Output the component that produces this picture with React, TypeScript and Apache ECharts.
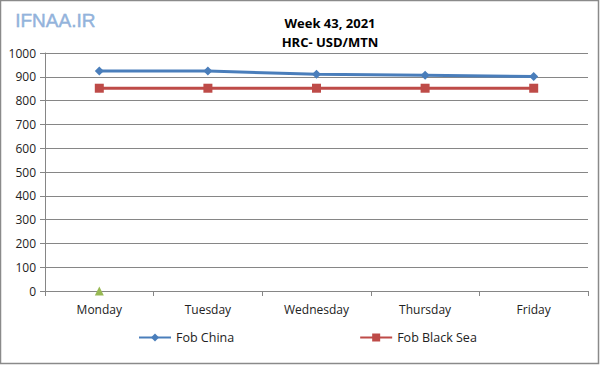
import React, { useEffect, useRef } from "react";
import * as echarts from "echarts";

const categories = ["Monday", "Tuesday", "Wednesday", "Thursday", "Friday"];
const fobChina = [924, 924, 911, 906, 901];
const fobBlackSea = [852, 852, 852, 852, 852];
const stray = [0, null, null, null, null];
const titleLines = ["Week 43, 2021", "HRC- USD/MTN"];

export default function App() {
  const ref = useRef<HTMLDivElement>(null);
  useEffect(() => {
    const chart = echarts.init(ref.current!, null, { renderer: "svg" });
    const font = "'Open Sans', 'Liberation Sans', sans-serif";
    chart.setOption({
      animation: false,
      backgroundColor: "#ffffff",
      textStyle: { fontFamily: font },
      title: {
        text: titleLines.join("\n"),
        left: 325,
        top: 8,
        textAlign: "center",
        textStyle: { fontSize: 13, fontWeight: "bold", color: "#000", lineHeight: 19, fontFamily: font },
      },
      graphic: [
        {
          type: "rect",
          shape: { x: 0.5, y: 0.5, width: 598, height: 363 },
          style: { fill: "none", stroke: "#8a8a8a", lineWidth: 1.5 },
          silent: true,
        },
        {
          type: "text",
          left: 15,
          top: 11,
          style: {
            text: "IFNAA.IR",
            fontSize: 19,
            fontFamily: "'Liberation Sans', sans-serif",
            fill: "#93b3dc",
            stroke: "#7b9fcf",
            lineWidth: 0.4,
          },
        },
      ],
      legend: {
        bottom: 16,
        left: 133,
        itemGap: 125,
        itemWidth: 32,
        itemHeight: 10,
        data: ["Fob China", "Fob Black Sea"],
        textStyle: { fontSize: 12.5, color: "#222", fontFamily: font },
      },
      grid: { left: 45, right: 12, top: 53, bottom: 74, containLabel: false },
      xAxis: {
        type: "category",
        data: categories,
        boundaryGap: true,
        axisLine: { lineStyle: { color: "#868686" } },
        axisTick: { show: true, length: 5, inside: false, lineStyle: { color: "#868686" } },
        axisLabel: { fontSize: 12, color: "#222", margin: 12, fontFamily: font },
      },
      yAxis: {
        type: "value",
        min: 0,
        max: 1000,
        interval: 100,
        axisLine: { show: true, lineStyle: { color: "#868686" } },
        axisTick: { show: true, length: 5, lineStyle: { color: "#868686" } },
        axisLabel: { fontSize: 12, color: "#222", margin: 9, fontFamily: font, formatter: (v: number) => String(v) },
        splitLine: { lineStyle: { color: "#868686" } },
      },
      series: [
        {
          name: "Fob China",
          type: "line",
          data: fobChina,
          symbol: "diamond",
          symbolSize: 9,
          color: "#4a7ebb",
          lineStyle: { width: 3, color: "#4a7ebb" },
          itemStyle: { color: "#4a7ebb" },
        },
        {
          name: "Fob Black Sea",
          type: "line",
          data: fobBlackSea,
          symbol: "rect",
          symbolSize: 9,
          color: "#be4b48",
          lineStyle: { width: 3, color: "#be4b48" },
          itemStyle: { color: "#be4b48" },
        },
        {
          name: "stray",
          type: "line",
          data: stray,
          symbol: "triangle",
          symbolSize: 9,
          lineStyle: { width: 0 },
          itemStyle: { color: "#98b954" },
          z: 5,
        },
      ],
    });
    return () => chart.dispose();
  }, []);
  return (
    <div
      ref={ref}
      style={{ position: "fixed", left: 0, top: 0, width: 600, height: 365 }}
    />
  );
}
